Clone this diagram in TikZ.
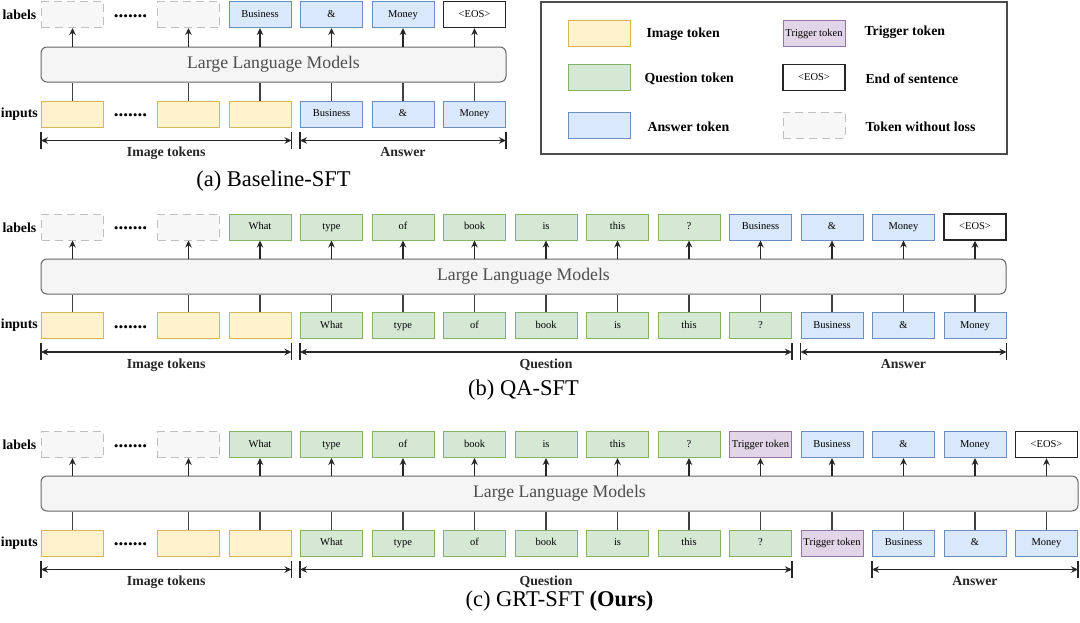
\documentclass[tikz,border=0pt]{standalone}
\usepackage{fontspec}
\setmainfont{Liberation Serif}
\usetikzlibrary{positioning}
\usetikzlibrary{arrows.meta}

\definecolor{imgfill}{HTML}{FFF2CC}
\definecolor{imgline}{HTML}{D6B656}
\definecolor{qfill}{HTML}{D5E8D4}
\definecolor{qline}{HTML}{82B366}
\definecolor{afill}{HTML}{DAE8FC}
\definecolor{aline}{HTML}{6C8EBF}
\definecolor{tfill}{HTML}{E1D5E7}
\definecolor{tline}{HTML}{9673A6}
\definecolor{llmfill}{HTML}{F5F5F5}
\definecolor{llmline}{HTML}{666666}
\definecolor{llmtext}{HTML}{4D4D4D}

% bracket under a run of input tokens
\newcommand{\tokenspan}[4]{%
  \coordinate (#1l) at ([yshift=-13pt]#2.south west);
  \coordinate (#1r) at ([yshift=-13pt]#3.south east);
  \draw[tick] ([yshift=9pt]#1l) -- ([yshift=-8pt]#1l);
  \draw[tick] ([yshift=9pt]#1r) -- ([yshift=-8pt]#1r);
  \draw[spanarrow] (#1l) -- (#1r) node[bold, midway, anchor=base, yshift=-16pt]{#4};
}

\begin{document}
\begin{tikzpicture}[x=1pt, y=-1pt,
    tok/.style = {draw, line width=1pt, minimum width=62pt, minimum height=26pt, inner sep=0pt, text height=7pt, text depth=2pt, font=\fontsize{10.5}{12}\selectfont},
    img/.style = {tok, draw=imgline, fill=imgfill},
    qst/.style = {tok, draw=qline, fill=qfill},
    ans/.style = {tok, draw=aline, fill=afill},
    trig/.style = {tok, draw=tline, fill=tfill},
    eos/.style = {tok, draw=black!85, fill=white, line width=1.4pt},
    noloss/.style = {tok, draw=black!25, fill=black!3, dash pattern=on 8pt off 5pt},
    llm/.style = {draw=llmline, fill=llmfill, line width=1pt, rounded corners=6pt, minimum height=35pt, text=llmtext, font=\fontsize{17.7}{20}\selectfont},
    bold/.style = {font=\fontsize{13.8}{16}\selectfont\bfseries},
    side/.style = {bold, anchor=east, inner sep=0pt},
    dots/.style = {anchor=base, inner sep=0pt, font=\fontsize{19}{19}\selectfont\bfseries},
    caption/.style = {font=\fontsize{22.5}{26}\selectfont},
    arr/.style = {-{Stealth[length=7pt,width=6.5pt]}, line width=1.2pt, black!85},
    link/.style = {line width=1.2pt, black!75},
    tick/.style = {line width=1.2pt, black!85},
    spanarrow/.style = {{Stealth[length=7pt,width=6.5pt]}-{Stealth[length=7pt,width=6.5pt]}, line width=1.2pt, black!85}]
  \useasboundingbox (0,0) rectangle (1080,622);

  % (a) Baseline-SFT
  \node[side] (labA) at (36.5,15) {labels};
  \node[side] (inA) at (38,114) {inputs};
  \node[llm, minimum width=465pt] (llmA) at (273.5,64.5) {Large Language Models};
  \node[noloss] (lA0) at (72.5,14.5) {};
  \node[img] (iA0) at (72.5,114) {};
  \node[dots] (dlA) at (130.5,17.5) {.......};
  \node[dots] (diA) at (130.5,116.5) {.......};
  \foreach \sty/\txt [count=\k] in {noloss/, ans/Business, ans/\&, ans/Money, eos/<EOS>}
    \node[\sty] (lA\k) at ({117+71.5*\k},14.5) {\txt};
  \foreach \sty/\txt [count=\k] in {img/, img/, ans/Business, ans/\&, ans/Money}
    \node[\sty] (iA\k) at ({117+71.5*\k},114) {\txt};
  \foreach \k in {0,...,5} {
    \draw[arr] (llmA.north -| lA\k) -- (lA\k);
    \draw[link] (iA\k) -- (llmA.south -| iA\k);
  }
  \tokenspan{imgA}{iA0}{iA2}{Image tokens}
  \tokenspan{ansA}{iA3}{iA5}{Answer}
  \node[caption] (capA) at (273.5,181) {(a) Baseline-SFT};

  % legend
  \draw[black!70, line width=1.2pt] (541,2) rectangle (1007,154);
  \node[img] (kImg) at (599.5,33.5) {};
  \node[qst] (kQst) at (599.5,77.5) {};
  \node[ans] (kAns) at (599.5,125) {};
  \node[trig] (kTrig) at (814,33.5) {Trigger token};
  \node[eos] (kEos) at (814,77.5) {<EOS>};
  \node[noloss] (kNo) at (814,125) {};
  \node[bold, anchor=west] (tImg) at (643,34) {Image token};
  \node[bold, anchor=west] (tQst) at (641,78.5) {Question token};
  \node[bold, anchor=west] (tAns) at (644,126.5) {Answer token};
  \node[bold, anchor=west] (tTrig) at (861,32) {Trigger token};
  \node[bold, anchor=west] (tEos) at (862,78.5) {End of sentence};
  \node[bold, anchor=west] (tNo) at (862,126.5) {Token without loss};

  % (b) QA-SFT
  \node[side] (labB) at (36.5,227.5) {labels};
  \node[side] (inB) at (38,325.5) {inputs};
  \node[llm, minimum width=965pt] (llmB) at (523.5,276.5) {Large Language Models};
  \node[noloss] (lB0) at (72.5,227) {};
  \node[img] (iB0) at (72.5,325.5) {};
  \node[dots] (dlB) at (130.5,229.5) {.......};
  \node[dots] (diB) at (130.5,328) {.......};
  \foreach \sty/\txt [count=\k] in {noloss/, qst/What, qst/type, qst/of, qst/book, qst/is, qst/this, qst/?, ans/Business, ans/\&, ans/Money, eos/<EOS>}
    \node[\sty] (lB\k) at ({117+71.5*\k},227) {\txt};
  \foreach \sty/\txt [count=\k] in {img/, img/, qst/What, qst/type, qst/of, qst/book, qst/is, qst/this, qst/?, ans/Business, ans/\&, ans/Money}
    \node[\sty] (iB\k) at ({117+71.5*\k},325.5) {\txt};
  \foreach \k in {0,...,12} {
    \draw[arr] (llmB.north -| lB\k) -- (lB\k);
    \draw[link] (iB\k) -- (llmB.south -| iB\k);
  }
  \tokenspan{imgB}{iB0}{iB2}{Image tokens}
  \tokenspan{qstB}{iB3}{iB9}{Question}
  \tokenspan{ansB}{iB10}{iB12}{Answer}
  \node[caption] (capB) at (523.5,390) {(b) QA-SFT};

  % (c) GRT-SFT
  \node[side] (labC) at (36.5,445) {labels};
  \node[side] (inC) at (38,543) {inputs};
  \node[llm, minimum width=1037pt] (llmC) at (559.5,493.5) {Large Language Models};
  \node[noloss] (lC0) at (72.5,444.5) {};
  \node[img] (iC0) at (72.5,543) {};
  \node[dots] (dlC) at (130.5,447) {.......};
  \node[dots] (diC) at (130.5,545.5) {.......};
  \foreach \sty/\txt [count=\k] in {noloss/, qst/What, qst/type, qst/of, qst/book, qst/is, qst/this, qst/?, trig/Trigger token, ans/Business, ans/\&, ans/Money, eos/<EOS>}
    \node[\sty] (lC\k) at ({117+71.5*\k},444.5) {\txt};
  \foreach \sty/\txt [count=\k] in {img/, img/, qst/What, qst/type, qst/of, qst/book, qst/is, qst/this, qst/?, trig/Trigger token, ans/Business, ans/\&, ans/Money}
    \node[\sty] (iC\k) at ({117+71.5*\k},543) {\txt};
  \foreach \k in {0,...,13} {
    \draw[arr] (llmC.north -| lC\k) -- (lC\k);
    \draw[link] (iC\k) -- (llmC.south -| iC\k);
  }
  \tokenspan{imgC}{iC0}{iC2}{Image tokens}
  \tokenspan{qstC}{iC3}{iC9}{Question}
  \tokenspan{ansC}{iC11}{iC13}{Answer}
  \node[caption] (capC) at (559.5,601) {(c) GRT-SFT \textbf{(Ours)}};
\end{tikzpicture}
\end{document}
